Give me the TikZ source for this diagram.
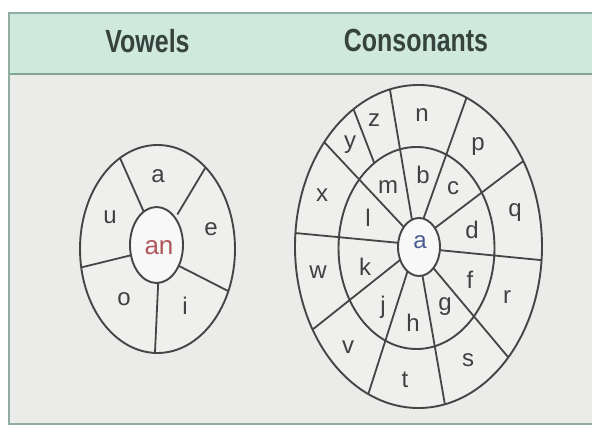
\documentclass[tikz,border=0pt]{standalone}
\usepackage{fontspec}
\setmainfont{Liberation Sans}
\newfontfamily\headfont{Liberation Sans}[FakeStretch=0.78]
\usetikzlibrary{calc}
\definecolor{bandfill}{HTML}{CFE9DD}
\definecolor{bandline}{HTML}{7FA595}
\definecolor{frameline}{HTML}{8FADA2}
\definecolor{bodyfill}{HTML}{EBEBEA}
\definecolor{wheelfill}{HTML}{EFEFED}
\definecolor{hubfill}{HTML}{F8F8F8}
\definecolor{ink}{HTML}{454545}
\definecolor{letter}{HTML}{404040}
\definecolor{headtext}{HTML}{36433E}
\definecolor{redtext}{HTML}{B0575C}
\definecolor{bluetext}{HTML}{4B5D8E}
\tikzset{
  wheelline/.style={draw=ink, line width=1.9pt},
  spokeline/.style={draw=ink, line width=1.8pt},
  lettr/.style={text=letter, font=\fontsize{24}{24}\selectfont, inner sep=0pt},
  headtxt/.style={text=headtext, font=\headfont\bfseries\fontsize{32}{32}\selectfont, inner sep=0pt},
}
\newcommand\myspoke[2]{\draw[spokeline] ($(#1)!-0.1!(#2)$) -- ($(#1)!1.4!(#2)$);}
\begin{document}
\begin{tikzpicture}[x=1pt,y=-1pt]
\useasboundingbox (0,0) rectangle (592,430);
\clip (0,0) rectangle (592,430);
\fill[white] (0,0) rectangle (592,430);
% frame
\fill[bodyfill] (9,13) rectangle (600,424);
\fill[bandfill] (9,13) rectangle (600,74);
\draw[bandline, line width=2pt] (9,74) -- (600,74);
\draw[frameline, line width=1.6pt] (600,13) -- (9,13) -- (9,424) -- (600,424);
\node[headtxt] (hv) at (147.5,41.5) {Vowels};
\node[headtxt] (hc) at (416,40) {Consonants};

% ---------- Vowels wheel ----------
\fill[wheelfill] (157.5,249) ellipse [x radius=77.5, y radius=104];
\begin{scope}
\clip (157.5,249) ellipse [x radius=77.5, y radius=104];
\coordinate (v1a) at (143,210); \coordinate (v1b) at (120,158);
\coordinate (v2a) at (180,210); \coordinate (v2b) at (207,165);
\coordinate (v3a) at (183,268); \coordinate (v3b) at (232,293);
\coordinate (v4a) at (158,287); \coordinate (v4b) at (155,352);
\coordinate (v5a) at (132,255); \coordinate (v5b) at (83,267);
\myspoke{v1a}{v1b}
\myspoke{v2a}{v2b}
\myspoke{v3a}{v3b}
\myspoke{v4a}{v4b}
\myspoke{v5a}{v5b}
\end{scope}
\filldraw[fill=hubfill, wheelline] (156.5,245) ellipse [x radius=26.5, y radius=38];
\draw[wheelline] (157.5,249) ellipse [x radius=77.5, y radius=104];
\node[lettr] (va) at (158,176) {a};
\node[lettr] (ve) at (211,229) {e};
\node[lettr] (vi) at (185,306) {i};
\node[lettr] (vo) at (124,299) {o};
\node[lettr] (vu) at (110,217) {u};
\node[lettr, text=redtext, font=\fontsize{26}{26}\selectfont] (van) at (159,248) {an};

% ---------- Consonants wheel ----------
\fill[wheelfill] (418.5,246.5) ellipse [x radius=123.5, y radius=161.5];
\begin{scope}
\clip (418.5,246.5) ellipse [x radius=123.5, y radius=161.5];
\coordinate (c11a) at (380,178); \coordinate (c11b) at (355,113);
\myspoke{c11a}{c11b}
\end{scope}
\fill[wheelfill] (416.5,248) ellipse [x radius=78, y radius=101];
\begin{scope}
\clip (418.5,246.5) ellipse [x radius=123.5, y radius=161.5];
\coordinate (c1a) at (412,220); \coordinate (c1b) at (390,90);
\coordinate (c2a) at (423,220); \coordinate (c2b) at (465,102);
\coordinate (c3a) at (435,228); \coordinate (c3b) at (522,162);
\coordinate (c4a) at (438,250); \coordinate (c4b) at (540,260);
\coordinate (c5a) at (435,270); \coordinate (c5b) at (508,357);
\coordinate (c6a) at (422,273); \coordinate (c6b) at (445,405);
\coordinate (c7a) at (407,273); \coordinate (c7b) at (368,395);
\coordinate (c8a) at (400,260); \coordinate (c8b) at (312,330);
\coordinate (c9a) at (400,243); \coordinate (c9b) at (295,233);
\coordinate (c10a) at (400,223); \coordinate (c10b) at (325,143);
\myspoke{c1a}{c1b}
\myspoke{c2a}{c2b}
\myspoke{c3a}{c3b}
\myspoke{c4a}{c4b}
\myspoke{c5a}{c5b}
\myspoke{c6a}{c6b}
\myspoke{c7a}{c7b}
\myspoke{c8a}{c8b}
\myspoke{c9a}{c9b}
\myspoke{c10a}{c10b}
\end{scope}
\draw[wheelline] (416.5,248) ellipse [x radius=78, y radius=101];
\filldraw[fill=hubfill, wheelline] (419,247) ellipse [x radius=21, y radius=29];
\draw[wheelline] (418.5,246.5) ellipse [x radius=123.5, y radius=161.5];
% outer ring letters
\node[lettr] (cn) at (422,115) {n};
\node[lettr] (cp) at (478,147) {p};
\node[lettr] (cq) at (515,213) {q};
\node[lettr] (cr) at (507,297) {r};
\node[lettr] (cs) at (468,360) {s};
\node[lettr] (ct) at (405,380) {t};
\node[lettr] (cv) at (348,347) {v};
\node[lettr] (cw) at (318,272) {w};
\node[lettr] (cx) at (322,195) {x};
\node[lettr] (cy) at (350,145) {y};
\node[lettr] (cz) at (374,120) {z};
% middle ring letters
\node[lettr] (cb) at (423,175) {b};
\node[lettr] (cc) at (453,188) {c};
\node[lettr] (cd) at (472,230) {d};
\node[lettr] (cf) at (470,280) {f};
\node[lettr] (cg) at (445,307) {g};
\node[lettr] (ch) at (413,323) {h};
\node[lettr] (cj) at (383,307) {j};
\node[lettr] (ck) at (365,267) {k};
\node[lettr] (cl) at (368,218) {l};
\node[lettr] (cm) at (388,187) {m};
\node[lettr, text=bluetext, font=\fontsize{24}{24}\selectfont] (ca) at (420,242) {a};
\end{tikzpicture}
\end{document}
